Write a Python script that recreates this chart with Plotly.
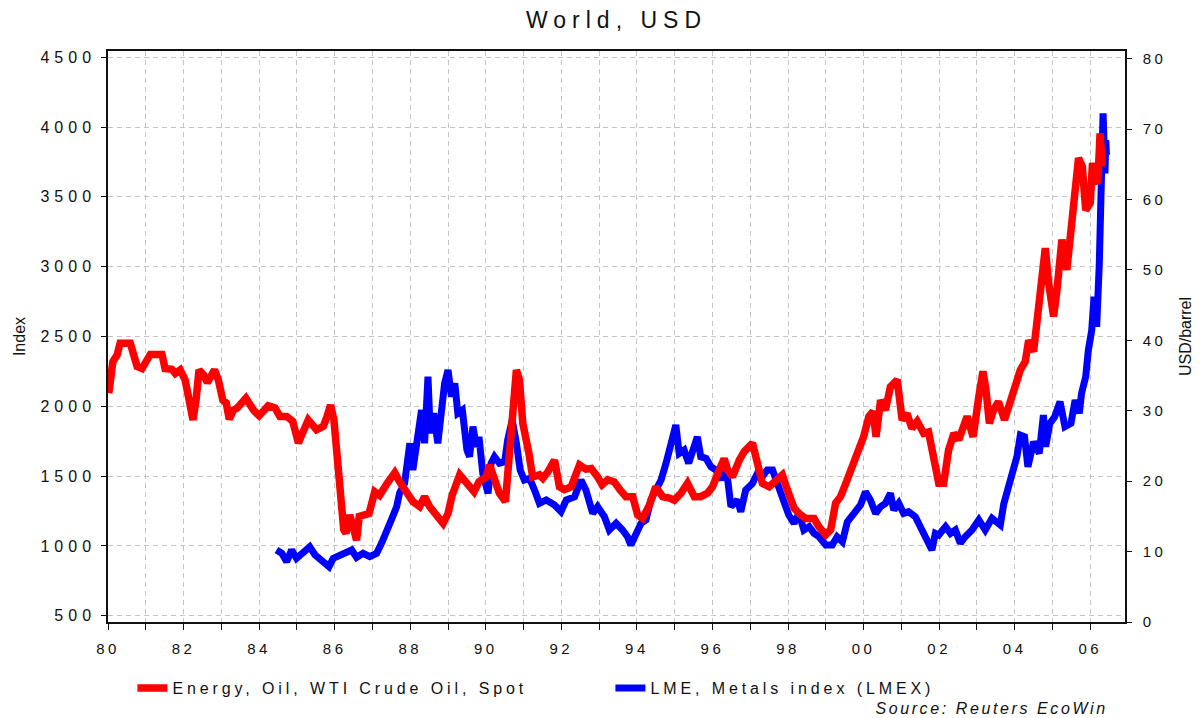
import plotly.graph_objects as go

# ---------------- data ----------------
oil_year = [1980.02, 1980.13, 1980.24, 1980.32, 1980.59, 1980.77, 1980.90, 1981.12, 1981.43, 1981.51,
            1981.69, 1981.78, 1981.91, 1982.04, 1982.13, 1982.25, 1982.33, 1982.41, 1982.53, 1982.63,
            1982.82, 1982.92, 1983.04, 1983.13, 1983.21, 1983.32, 1983.42, 1983.65, 1983.85, 1984.00,
            1984.24, 1984.42, 1984.55, 1984.73, 1984.89, 1984.95, 1985.04, 1985.13, 1985.30, 1985.52,
            1985.70, 1985.80, 1985.89, 1985.98, 1986.07, 1986.16, 1986.24, 1986.30, 1986.40, 1986.49,
            1986.58, 1986.65, 1986.75, 1986.91, 1987.06, 1987.19, 1987.39, 1987.59, 1987.72, 1987.90,
            1988.07, 1988.25, 1988.38, 1988.51, 1988.69, 1988.87, 1989.00, 1989.11, 1989.31, 1989.50,
            1989.69, 1989.82, 1990.01, 1990.10, 1990.23, 1990.36, 1990.52, 1990.63, 1990.72, 1990.81,
            1990.89, 1990.98, 1991.14, 1991.24, 1991.42, 1991.51, 1991.64, 1991.82, 1991.95, 1992.08,
            1992.26, 1992.48, 1992.65, 1992.79, 1992.96, 1993.08, 1993.23, 1993.40, 1993.55, 1993.71,
            1993.89, 1994.02, 1994.15, 1994.33, 1994.50, 1994.68, 1994.86, 1994.99, 1995.17, 1995.34,
            1995.52, 1995.69, 1995.87, 1996.00, 1996.18, 1996.31, 1996.40, 1996.53, 1996.71, 1996.84,
            1997.06, 1997.19, 1997.32, 1997.50, 1997.67, 1997.85, 1997.98, 1998.16, 1998.29, 1998.47,
            1998.69, 1998.82, 1999.00, 1999.13, 1999.26, 1999.39, 1999.53, 1999.66, 1999.74, 1999.87,
            2000.00, 2000.14, 2000.25, 2000.33, 2000.45, 2000.58, 2000.71, 2000.89, 2001.02, 2001.15,
            2001.28, 2001.42, 2001.59, 2001.72, 2001.86, 2001.99, 2002.12, 2002.25, 2002.39, 2002.52,
            2002.74, 2002.90, 2003.05, 2003.16, 2003.24, 2003.33, 2003.44, 2003.57, 2003.73, 2003.88,
            2004.02, 2004.15, 2004.28, 2004.37, 2004.50, 2004.59, 2004.68, 2004.81, 2004.90, 2005.03,
            2005.12, 2005.25, 2005.38, 2005.51, 2005.60, 2005.69, 2005.79, 2005.88, 2006.00, 2006.06,
            2006.13, 2006.20, 2006.26, 2006.32]
oil_usd = [32.5, 37.0, 37.9, 39.6, 39.6, 36.3, 36.0, 38.0, 38.0, 36.0,
           35.9, 35.3, 35.8, 34.4, 32.0, 28.7, 31.5, 35.8, 35.1, 34.0,
           35.8, 34.4, 31.5, 31.1, 28.8, 30.1, 30.4, 31.8, 30.1, 29.3,
           30.7, 30.4, 29.2, 29.2, 28.5, 26.8, 25.4, 26.6, 28.7, 27.3,
           27.8, 29.2, 30.8, 28.7, 23.0, 16.4, 13.1, 12.6, 15.2, 13.5,
           11.6, 15.0, 15.2, 15.4, 18.5, 18.0, 19.7, 21.2, 19.9, 18.3,
           17.1, 16.4, 17.8, 16.4, 15.2, 14.0, 15.4, 18.0, 20.9, 19.7,
           18.5, 19.9, 20.6, 22.3, 20.2, 18.3, 17.1, 24.0, 32.0, 35.8,
           34.4, 28.2, 24.0, 20.6, 20.9, 20.4, 21.3, 23.0, 19.2, 18.8,
           19.2, 22.3, 21.7, 21.8, 20.6, 19.5, 20.2, 19.9, 18.8, 17.8,
           17.8, 15.2, 14.7, 16.6, 19.2, 17.8, 17.6, 17.3, 18.3, 19.7,
           17.8, 17.8, 18.3, 19.2, 21.6, 23.2, 21.6, 20.6, 23.0, 24.2,
           25.4, 22.5, 19.7, 19.2, 20.2, 20.9, 18.8, 16.2, 15.4, 14.7,
           14.7, 13.5, 12.4, 13.1, 16.9, 17.8, 19.7, 21.6, 23.0, 24.4,
           26.3, 29.2, 29.9, 26.3, 31.5, 30.1, 33.4, 34.4, 28.7, 29.6,
           27.5, 28.5, 26.8, 27.0, 22.5, 19.7, 19.7, 24.4, 26.8, 25.9,
           29.2, 26.3, 32.0, 35.6, 33.0, 28.2, 30.1, 31.3, 28.7, 31.1,
           33.0, 35.8, 37.0, 40.0, 38.4, 42.4, 45.3, 53.1, 48.1, 43.4,
           47.2, 54.3, 50.0, 57.1, 62.8, 65.9, 64.7, 58.5, 59.5, 65.2,
           62.8, 62.3, 69.4, 64.7]

lme_year = [1984.46, 1984.60, 1984.73, 1984.86, 1984.99, 1985.13, 1985.34, 1985.48, 1985.65, 1985.85,
            1985.96, 1986.18, 1986.45, 1986.58, 1986.75, 1986.93, 1987.11, 1987.24, 1987.37, 1987.50,
            1987.64, 1987.72, 1987.85, 1987.99, 1988.07, 1988.21, 1988.30, 1988.38, 1988.47, 1988.53,
            1988.62, 1988.73, 1988.82, 1988.91, 1989.00, 1989.09, 1989.18, 1989.26, 1989.38, 1989.50,
            1989.57, 1989.66, 1989.75, 1989.82, 1989.92, 1990.06, 1990.14, 1990.23, 1990.36, 1990.50,
            1990.58, 1990.70, 1990.81, 1990.91, 1991.02, 1991.16, 1991.29, 1991.42, 1991.60, 1991.82,
            1991.99, 1992.13, 1992.35, 1992.52, 1992.65, 1992.83, 1992.96, 1993.14, 1993.27, 1993.45,
            1993.62, 1993.75, 1993.84, 1993.98, 1994.11, 1994.24, 1994.37, 1994.50, 1994.64, 1994.77,
            1994.90, 1995.03, 1995.12, 1995.25, 1995.37, 1995.47, 1995.60, 1995.69, 1995.83, 1995.96,
            1996.09, 1996.22, 1996.35, 1996.49, 1996.66, 1996.75, 1996.88, 1997.06, 1997.19, 1997.32,
            1997.45, 1997.59, 1997.72, 1997.89, 1998.02, 1998.16, 1998.29, 1998.42, 1998.56, 1998.69,
            1998.82, 1999.00, 1999.17, 1999.30, 1999.44, 1999.57, 1999.74, 1999.92, 2000.05, 2000.18,
            2000.32, 2000.45, 2000.58, 2000.71, 2000.80, 2000.93, 2001.06, 2001.19, 2001.37, 2001.50,
            2001.64, 2001.81, 2001.90, 2001.99, 2002.17, 2002.30, 2002.43, 2002.56, 2002.69, 2002.87,
            2003.05, 2003.22, 2003.40, 2003.62, 2003.71, 2003.84, 2003.97, 2004.06, 2004.15, 2004.26,
            2004.35, 2004.50, 2004.65, 2004.76, 2004.82, 2004.93, 2005.06, 2005.20, 2005.33, 2005.49,
            2005.60, 2005.71, 2005.77, 2005.88, 2005.95, 2006.04, 2006.10, 2006.17, 2006.24, 2006.26,
            2006.31, 2006.34, 2006.37, 2006.39, 2006.41, 2006.43]
lme_index = [971, 947, 887, 971, 911, 947, 994, 935, 899, 851,
             911, 935, 971, 918, 947, 923, 947, 1019, 1090, 1186,
             1281, 1380, 1448, 1735, 1544, 1830, 1973, 1735, 2212, 1807,
             1950, 1735, 2021, 2165, 2260, 2069, 2165, 1950, 1973, 1687,
             1639, 1854, 1710, 1782, 1520, 1377, 1592, 1639, 1592, 1603,
             1759, 1902, 1735, 1544, 1472, 1484, 1400, 1305, 1329, 1293,
             1245, 1329, 1352, 1472, 1400, 1233, 1281, 1209, 1114, 1162,
             1114, 1066, 1006, 1090, 1162, 1186, 1329, 1400, 1472, 1592,
             1735, 1866, 1663, 1687, 1592, 1687, 1782, 1639, 1627, 1567,
             1544, 1472, 1592, 1281, 1329, 1245, 1400, 1448, 1520, 1496,
             1544, 1544, 1448, 1305, 1221, 1162, 1233, 1114, 1138, 1090,
             1066, 1006, 1006, 1066, 1030, 1173, 1233, 1293, 1388, 1329,
             1233, 1281, 1305, 1377, 1257, 1305, 1233, 1245, 1209, 1138,
             1078, 971, 1090, 1078, 1138, 1090, 1114, 1019, 1066, 1114,
             1186, 1114, 1198, 1150, 1300, 1420, 1520, 1640, 1794, 1782,
             1567, 1746, 1663, 1937, 1711, 1878, 1925, 2033, 1854, 1878,
             2045, 1950, 2093, 2212, 2403, 2546, 2785, 2570, 3024, 3430,
             3788, 4099, 3750, 3669, 3907, 3800]

x_tick_years = [1980, 1982, 1984, 1986, 1988, 1990, 1992, 1994, 1996, 1998, 2000, 2002, 2004, 2006]
x_tick_labels = ["80", "82", "84", "86", "88", "90", "92", "94", "96", "98", "00", "02", "04", "06"]

FONT = "Liberation Sans, Arial, Helvetica, sans-serif"
GRID = "#c4c4c4"
DASH = "5px,4px"

fig = go.Figure()
fig.add_trace(go.Scatter(x=oil_year, y=oil_usd, name="Energy, Oil, WTI Crude Oil, Spot",
                         yaxis="y2", mode="lines",
                         line=dict(color="#ff0000", width=7.5)))
fig.add_trace(go.Scatter(x=lme_year, y=lme_index, name="LME, Metals index (LMEX)",
                         yaxis="y", mode="lines",
                         line=dict(color="#0000ff", width=7)))

fig.update_layout(
    width=1204, height=718,
    margin=dict(l=108, r=77, t=51, b=96),
    paper_bgcolor="white", plot_bgcolor="white",
    font=dict(family=FONT, color="#111111"),
    title=dict(text="World, USD", x=0.5, xref="paper", y=1 - 20 / 718, yanchor="middle",
               font=dict(size=23, family=FONT, color="#111111")),
    xaxis=dict(range=[1980, 2006.92], tickmode="array", tickvals=x_tick_years, ticktext=x_tick_labels,
               showgrid=True, gridcolor=GRID, griddash=DASH, gridwidth=1,
               ticks="outside", ticklen=6, tickcolor="#111111", tickwidth=1,
               showline=True, linecolor="#111111", linewidth=1.5, mirror=True,
               zeroline=False, tickfont=dict(size=15), ticklabelstandoff=6,
               minor=dict(tickmode="linear", tick0=1980, dtick=1, showgrid=True,
                          gridcolor=GRID, griddash=DASH, gridwidth=1,
                          ticks="outside", ticklen=6, tickcolor="#111111")),
    yaxis=dict(range=[455, 4545], tickmode="linear", tick0=500, dtick=500,
               showgrid=True, gridcolor=GRID, griddash=DASH, gridwidth=1,
               ticks="outside", ticklen=5, tickcolor="#111111",
               showline=True, linecolor="#111111", linewidth=1.5, zeroline=False,
               tickfont=dict(size=16), ticklabelstandoff=2,
               title=dict(text="Index", font=dict(size=16), standoff=31)),
    yaxis2=dict(range=[0, 81.1], tickmode="linear", tick0=0, dtick=10, overlaying="y", side="right",
                showgrid=False, ticks="outside", ticklen=5, tickcolor="#111111",
                showline=True, linecolor="#111111", linewidth=1.5, zeroline=False,
                tickfont=dict(size=15), ticklabelstandoff=8,
                title=dict(text="USD/barrel", font=dict(size=16), standoff=21)),
    legend=dict(orientation="h", x=0.024, xanchor="left", y=(622 - 688) / 571, yanchor="middle",
                font=dict(size=16), entrywidth=433, bgcolor="rgba(0,0,0,0)", traceorder="normal"),
    annotations=[dict(text="Source: Reuters EcoWin", xref="paper", yref="paper",
                      x=(1083 - 108) / 1019, y=(622 - 708) / 571, xanchor="right", yanchor="middle",
                      showarrow=False, font=dict(size=16, style="italic", family=FONT, color="#111111"))],
    showlegend=True,
)

post = """
var gd = document.getElementById('{plot_id}');
document.body.style.margin = '0';
document.body.style.overflow = 'hidden';
function applyLS(){
  var set = function(sel, v){ gd.querySelectorAll(sel).forEach(function(t){ t.style.letterSpacing = v; }); };
  set('.xtick text', '3.5px');
  set('.ytick text', '5px');
  set('.y2tick text', '3.5px');
  set('.legendtext', '3.9px');
  set('.annotation-text', '2.6px');
  set('.gtitle', '6px');
}
applyLS();
gd.on('plotly_afterplot', applyLS);
"""

fig.write_html("out.html", post_script=post, config={"displayModeBar": False})
